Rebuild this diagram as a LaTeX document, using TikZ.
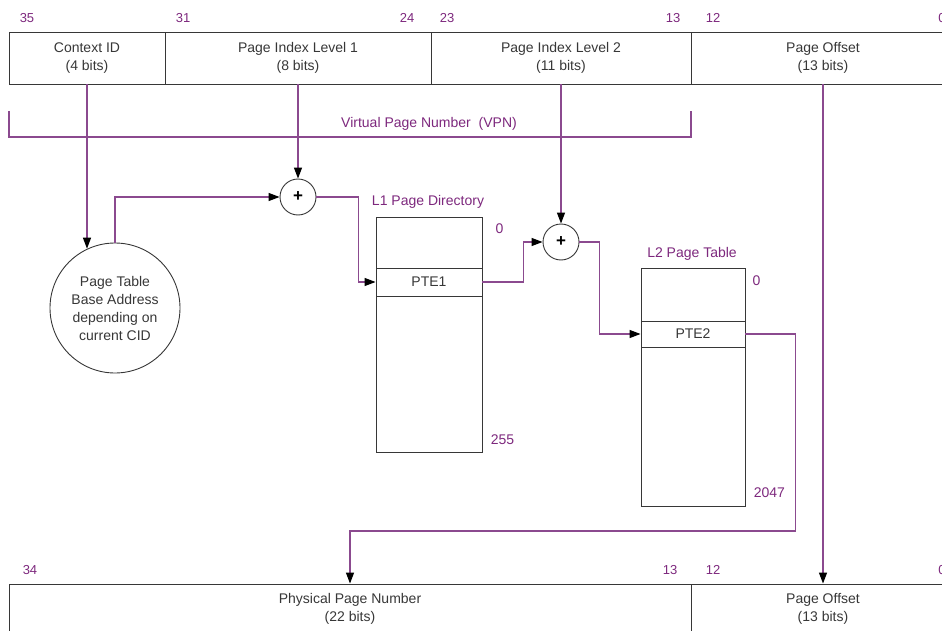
\documentclass[tikz,border=0pt]{standalone}
\usepackage{fontspec}
\setmainfont{Liberation Sans}
\usepackage{tikz}
\usetikzlibrary{arrows.meta, calc, positioning}
\definecolor{wirepurple}{RGB}{139,74,143}
\definecolor{labelpurple}{RGB}{125,40,125}
\definecolor{inkgray}{RGB}{55,55,55}

\begin{document}
\begin{tikzpicture}[x=1pt, y=-1pt,
    field/.style={draw=inkgray, line width=0.9pt, text=inkgray, inner sep=0pt, align=center, font=\fontsize{14}{18}\selectfont},
    bitno/.style={text=labelpurple, inner sep=0pt, font=\fontsize{13}{15}\selectfont},
    tabtitle/.style={text=labelpurple, inner sep=0pt, font=\fontsize{14}{16}\selectfont},
    adder/.style={circle, draw=inkgray, line width=0.9pt, fill=white, minimum size=36pt, inner sep=0pt, font=\bfseries\fontsize{17}{17}\selectfont},
    link/.style={draw=wirepurple, line width=1.3pt},
    conn/.style={link, -{Triangle[color=black, length=11pt, width=8pt]}}]
    % Frame
    \useasboundingbox (0,0) rectangle (942,631);
    \clip (0,0) rectangle (942,631);
    % Virtual address
    \node[field, minimum width=156pt, minimum height=52pt] (cid) at (87,58) {Context ID\\(4 bits)};
    \node[field, minimum width=266pt, minimum height=52pt] (pil1) at (298,58) {Page Index Level 1\\(8 bits)};
    \node[field, minimum width=260pt, minimum height=52pt] (pil2) at (561,58) {Page Index Level 2\\(11 bits)};
    \node[field, minimum width=264pt, minimum height=52pt] (poff) at (823,58) {Page Offset\\(13 bits)};
    \foreach \n/\x in {35/27, 31/183, 24/407, 23/447, 13/673, 12/713, 0/942}
        \node[bitno] (top\n) at (\x,18) {\n};
    % VPN bracket
    \draw[link] (9,111) -- (9,137) -- (691,137) -- (691,111);
    \node[tabtitle] (vpn) at (429,124) {Virtual Page Number\ \ (VPN)};
    % Base address
    \node[circle, draw=inkgray, line width=0.9pt, minimum size=130pt, inner sep=0pt, align=center, text=inkgray, font=\fontsize{14}{18}\selectfont] (base) at (115,308) {Page Table\\Base Address\\depending on\\current CID};
    % Adders
    \node[adder] (add1) at (298,197) {+};
    \node[adder] (add2) at (561,242) {+};
    % L1 page directory
    \node[field, minimum width=106pt, minimum height=235pt] (l1) at (429,334.5) {};
    \node[field, minimum width=106pt, minimum height=28pt] (pte1) at (429,282) {PTE1};
    \node[tabtitle] (l1title) at (428,202) {L1 Page Directory};
    \node[bitno, font=\fontsize{14}{16}\selectfont] (l1first) at ($(l1.north east)+(17,12)$) {0};
    \node[bitno, font=\fontsize{14}{16}\selectfont] (l1last) at ($(l1.south east)+(20,-13)$) {255};
    % L2 page table
    \node[field, minimum width=104pt, minimum height=238pt] (l2) at (693,387) {};
    \node[field, minimum width=104pt, minimum height=26pt] (pte2) at (693,334) {PTE2};
    \node[tabtitle] (l2title) at (692,254) {L2 Page Table};
    \node[bitno, font=\fontsize{14}{16}\selectfont] (l2first) at ($(l2.north east)+(11,13)$) {0};
    \node[bitno, font=\fontsize{14}{16}\selectfont] (l2last) at ($(l2.south east)+(24,-14)$) {2047};
    % Physical address
    \node[field, minimum width=682pt, minimum height=50pt] (ppn) at (350,609) {Physical Page Number\\(22 bits)};
    \node[field, minimum width=264pt, minimum height=50pt] (opoff) at (823,609) {Page Offset\\(13 bits)};
    \foreach \n/\x in {34/30, 13/670, 12/713, 0/942}
        \node[bitno] (bot\n) at (\x,570) {\n};
    % Connectors
    \draw[conn] (cid.south) -- (cid.south |- base.115);
    \draw[conn] (base.north) |- (add1.west);
    \draw[conn] (pil1.south) -- (add1.north);
    \draw[conn] (add1.east) -- ++(42,0) |- (pte1.west);
    \draw[conn] (pte1.east) -- ++(41,0) |- (add2.west);
    \draw[conn] (pil2.south) -- (add2.north);
    \draw[conn] (add2.east) -- ++(20,0) |- (pte2.west);
    \coordinate (bend) at (350,531);
    \draw[conn] (pte2.east) -- ++(50,0) |- (bend) -- (bend |- ppn.north);
    \draw[conn] (poff.south) -- (poff.south |- opoff.north);
\end{tikzpicture}
\end{document}
